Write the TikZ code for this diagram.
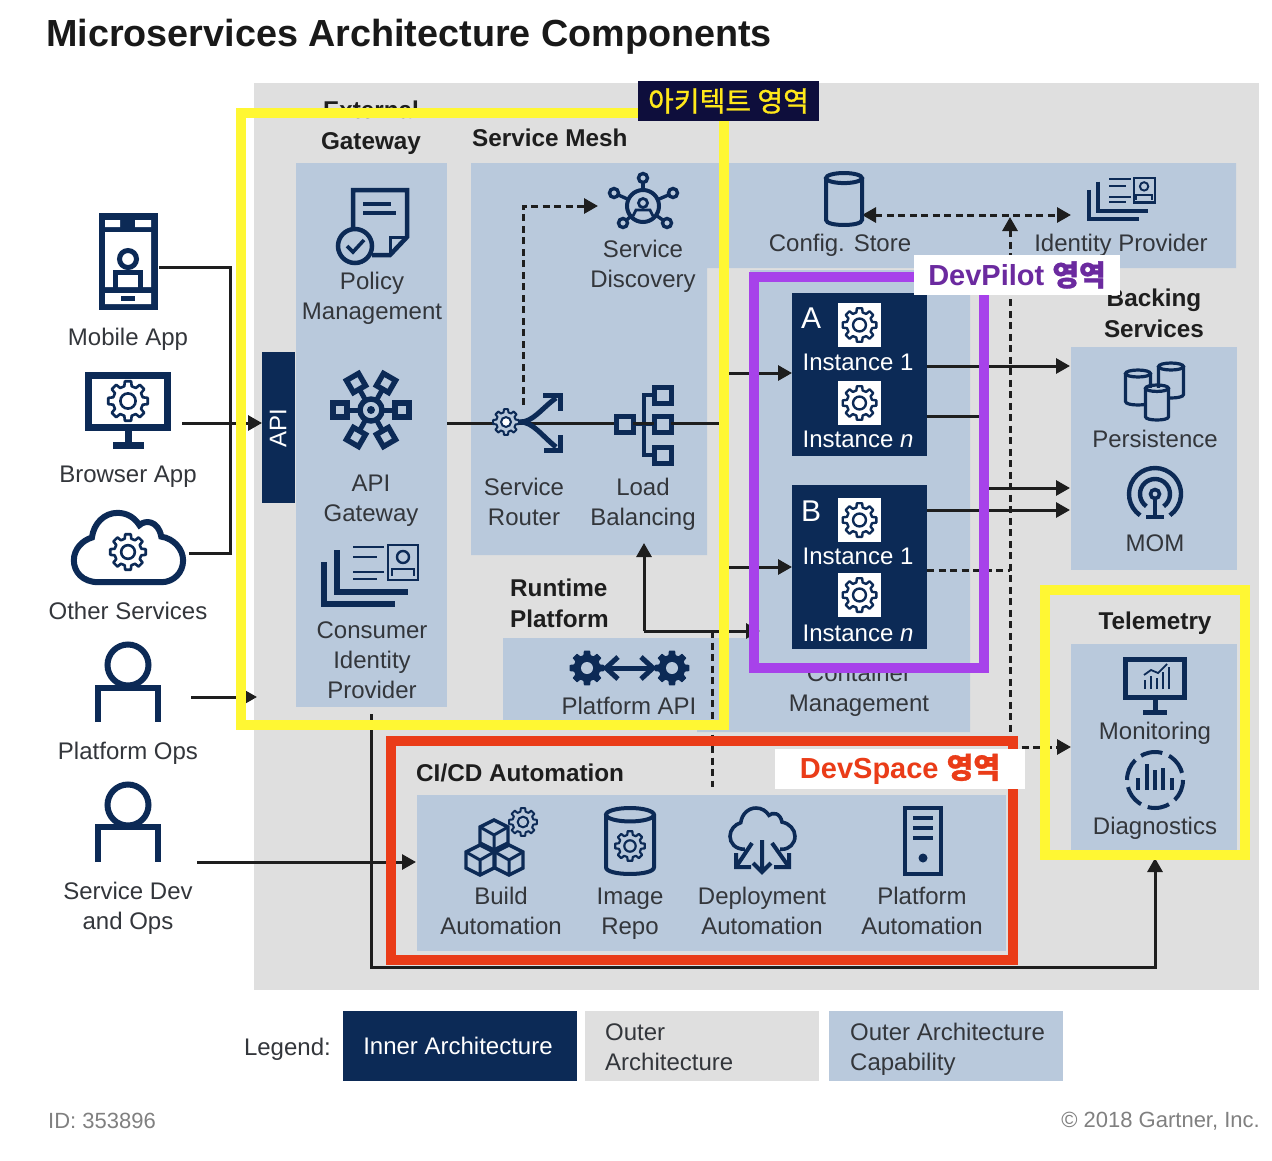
\documentclass[tikz,border=0pt]{standalone}
\usepackage{fontspec}
\setmainfont{Liberation Sans}
\newfontfamily\krfont[FakeBold=1]{Noto Sans CJK KR}
\usetikzlibrary{arrows.meta}
\definecolor{navy}{HTML}{0C2A56}
\definecolor{panelc}{HTML}{B9C9DC}
\definecolor{grayc}{HTML}{DFDFDF}
\definecolor{txtc}{HTML}{33363B}
\definecolor{headc}{HTML}{1E1E1E}
\definecolor{ylw}{HTML}{FFF733}
\definecolor{prp}{HTML}{A742EA}
\definecolor{redc}{HTML}{EA3C18}
\definecolor{darkl}{HTML}{0E0E3C}
\definecolor{ylwt}{HTML}{FFE81A}
\definecolor{prpt}{HTML}{6B2A9F}
\tikzset{
 tipx/.tip={Triangle[length=14pt,width=15pt]},
 boxbase/.style={inner sep=0pt,outer sep=0pt},
 panelbox/.style={boxbase,fill=panelc},
 darkbox/.style={boxbase,fill=navy},
 graybox/.style={boxbase,fill=grayc},
 whitebox/.style={boxbase,fill=white},
 lbl/.style={inner sep=0pt,text=txtc,align=center,font=\fontsize{24}{30}\selectfont},
 lblw/.style={inner sep=0pt,text=white,align=center,font=\fontsize{24}{30}\selectfont},
 hd/.style={inner sep=0pt,text=headc,align=center,font=\fontsize{24.3}{31}\selectfont\bfseries},
 wire/.style={draw=headc,line width=3pt},
 arw/.style={wire,-tipx},
 dwire/.style={wire,dash pattern=on 7pt off 4.5pt},
 ic/.style={draw=navy,line width=4pt,line join=miter,fill=none},
 frame/.style={boxbase,fill=none,line width=10pt},
}
\newcommand{\bx}[6]{\pgfmathsetmacro\bxw{(#5)-(#3)}\pgfmathsetmacro\bxh{(#6)-(#4)}%
 \node[#1,minimum width=\bxw pt,minimum height=\bxh pt] (#2) at ({((#3)+(#5))/2},{((#4)+(#6))/2}) {};}
\newcommand{\gearic}[4][]{%
 \begin{scope}[shift={(#2,#3)}]
 \pgfmathsetmacro\grd{#4}
 \draw[navy,line width=2.6pt,line join=round,#1] (-14:{.76*\grd})
  \foreach \ga in {0,45,...,315}{ -- ({\ga-14}:{.76*\grd}) -- ({\ga-9}:\grd) -- ({\ga+9}:\grd) -- ({\ga+14}:{.76*\grd})} -- cycle;
 \draw[navy,line width=2.6pt,#1] (0,0) circle ({.38*\grd});
 \end{scope}}
\newcommand{\cyl}[5][]{% [opts] cx top rx bottom
 \pgfmathsetmacro\cyL{#2-#4}\pgfmathsetmacro\cyR{#2+#4}\pgfmathsetmacro\cyRy{#4*.28}
 \pgfmathsetmacro\cyT{#3+\cyRy}\pgfmathsetmacro\cyB{#5-\cyRy}\pgfmathsetmacro\cyBB{#5+.33*\cyRy}
 \draw[ic,#1] (#2,\cyT) ellipse [x radius=#4,y radius=\cyRy];
 \draw[ic,#1] (\cyL,\cyT) -- (\cyL,\cyB) .. controls (\cyL,\cyBB) and (\cyR,\cyBB) .. (\cyR,\cyB) -- (\cyR,\cyT);}
\newcommand{\cloudp}{(97,584) .. controls (80,584) and (71,573) .. (71,561) .. controls (71,549) and (80,540) .. (90,537) .. controls (92,522) and (103,511) .. (117,511) .. controls (127,511) and (135,516) .. (140,524) .. controls (146,518) and (160,519) .. (163,536) .. controls (176,538) and (186,549) .. (186,561) .. controls (186,574) and (176,584) .. (163,584) -- cycle}
\newcommand{\idicon}[1]{%
 \draw[ic,line width=#1*2.6pt] (68,0) rectangle (98,35);
 \draw[ic,line width=#1*2.4pt] (83,12) circle (6);
 \draw[ic,line width=#1*2.4pt] (72,31) -- (72,24) -- (94,24) -- (94,31);
 \draw[ic,line width=#1*2.6pt] (33,2) -- (64,2) (33,12) -- (57,12) (33,27) -- (64,27) (33,34) -- (57,34);
 \draw[ic,line width=#1*5.4pt] (17,5) -- (17,47) -- (88,47);
 \draw[ic,line width=#1*5.4pt] (4,17) -- (4,59) -- (75,59);}
\begin{document}
\begin{tikzpicture}[x=1pt,y=-1pt]
\useasboundingbox (0,0) rectangle (1272,1160);
\fill[white] (0,0) rectangle (1272,1160);
% title
\node[anchor=west,inner sep=0pt,text=black!90,font=\fontsize{37.75}{40}\selectfont\bfseries] (title) at (46,37) {Microservices Architecture Components};
% backgrounds
\bx{graybox}{bg}{254}{83}{1259}{990}
\bx{panelbox}{gwpanel}{296}{163}{447}{707}
\fill[panelc] (471,163) -- (1236,163) -- (1236,268) -- (707,268) -- (707,555) -- (471,555) -- cycle;
\fill[panelc] (503,638) -- (750,638) -- (750,270) -- (970,270) -- (970,732) -- (697,732) -- (697,725) -- (503,725) -- cycle;
\bx{panelbox}{backpanel}{1071}{347}{1237}{570}
\bx{panelbox}{telepanel}{1071}{644}{1237}{850}
\bx{panelbox}{cipanel}{417}{795}{1006}{951}
\bx{darkbox}{apibar}{262}{352}{295}{503}
\bx{darkbox}{instA}{792}{293}{927}{456}
\bx{darkbox}{instB}{792}{485}{927}{649}
% named connector ends
\coordinate (mobO) at (159,267); \coordinate (cloudO) at (189,553); \coordinate (busT) at (230,267); \coordinate (busB) at (230,553);
\coordinate (brO) at (182,423); \coordinate (apiIn) at (262,423);
\coordinate (opsO) at (191,697); \coordinate (opsI) at (257,697);
\coordinate (devO) at (197,862); \coordinate (devI) at (416,862);
\coordinate (gwO) at (447,423); \coordinate (lbO) at (722,423);
\coordinate (rtU) at (523,405); \coordinate (discI) at (598,206); \coordinate (rtC) at (523,206);
\coordinate (meshT) at (722,373); \coordinate (meshB) at (722,567);
\coordinate (aIn) at (792,373); \coordinate (bIn) at (792,567);
\coordinate (lbU) at (644,543); \coordinate (ptC) at (644,631); \coordinate (ctI) at (760,631);
\coordinate (ptD) at (712,631); \coordinate (ptE) at (712,787);
\coordinate (aO1) at (927,366); \coordinate (pI) at (1070,366);
\coordinate (aO2) at (927,416); \coordinate (jn) at (985,416); \coordinate (jn2) at (985,488); \coordinate (mI1) at (1070,488);
\coordinate (bO1) at (927,510); \coordinate (mI2) at (1070,510);
\coordinate (bO2) at (927,570); \coordinate (vd) at (1010,570);
\coordinate (vT) at (1010,217); \coordinate (vB) at (1010,747); \coordinate (tI) at (1071,747);
\coordinate (cfg) at (862,215); \coordinate (idp) at (1071,215);
\coordinate (gwB) at (371,714); \coordinate (botL) at (371,967); \coordinate (botR) at (1155,967); \coordinate (teleI) at (1155,858);
% connectors
\draw[wire] (mobO) -- (busT) -- (busB) -- (cloudO);
\draw[arw] (brO) -- (apiIn);
\draw[arw] (opsO) -- (opsI);
\draw[arw] (devO) -- (devI);
\draw[wire] (gwO) -- (lbO);
\draw[wire] (meshT) -- (meshB);
\draw[dwire,-tipx] (rtU) -- (rtC) -- (discI);
\draw[arw] (meshT) -- (aIn);
\draw[arw] (meshB) -- (bIn);
\draw[arw] (ptC) -- (lbU);
\draw[arw] (ptC) -- (ctI);
\draw[dwire] (ptD) -- (ptE);
\draw[arw] (aO1) -- (pI);
\draw[wire] (aO2) -- (jn) -- (jn2);
\draw[arw] (jn2) -- (mI1);
\draw[arw] (bO1) -- (mI2);
\draw[dwire] (bO2) -- (vd);
\draw[dwire,tipx-] (vT) -- (vB);
\draw[dwire,-tipx] (vB) -- (tI);
\draw[dwire,tipx-tipx] (cfg) -- (idp);
\draw[wire,-tipx] (gwB) -- (botL) -- (botR) -- (teleI);
% left icons
% mobile
\fill[navy] (99,213) rectangle (158,310);
\fill[white] (105,220) rectangle (120,227) (135,220) rectangle (151,227) (105,232) rectangle (151,287) (105,293) rectangle (151,304);
\fill[navy] (121,296) rectangle (135,301);
\draw[ic,line width=5pt] (128,259) circle (8.5);
\draw[ic,line width=5pt] (115.5,288) -- (115.5,272) -- (140.5,272) -- (140.5,288);
% browser
\draw[ic,line width=7pt] (88.5,375.5) rectangle (167.5,427.5);
\draw[ic,line width=7pt] (128,431) -- (128,444);
\draw[ic,line width=7pt] (113,445) -- (144,445);
\gearic{128}{401}{20}
% cloud
\begin{scope}[shift={(128,548)},scale=.95,shift={(-128,-548)}]
\draw[ic,line width=6pt] \cloudp;
\end{scope}
\gearic{128}{552}{18}
% persons
\draw[ic,line width=6pt] (128,665) circle (20.5);
\draw[ic,line width=6pt] (98,722) -- (98,688) -- (158,688) -- (158,722);
\draw[ic,line width=6pt] (128,805) circle (20.5);
\draw[ic,line width=6pt] (98,862) -- (98,827) -- (158,827) -- (158,862);
% policy
\fill[panelc] (355,246) circle (18);
\draw[ic,line width=4.5pt] (353,229) -- (353,190) -- (407,190) -- (407,237) -- (390,255) -- (372,255);
\draw[ic,line width=3pt] (407,237) -- (390,237) -- (390,255);
\draw[ic,line width=3.4pt] (363,204) -- (391,204) (363,213) -- (396,213);
\draw[ic,line width=4.5pt] (355,246) circle (17);
\draw[ic,line width=3.6pt] (347,246) -- (353,252) -- (364,240);
% api gateway
\foreach \ax/\ay in {340/410,402/410,356/383,386/383,356/437,386/437}{\draw[ic,line width=5pt] (371,410) -- (\ax,\ay);}
\foreach \ax/\ay/\aa in {340/410/0,402/410/0,356/383/30,386/383/-30,356/437/-30,386/437/30}{
 \fill[panelc,rotate around={\aa:(\ax,\ay)}] (\ax-7,\ay-7) rectangle (\ax+7,\ay+7);
 \draw[ic,line width=5.4pt,rotate around={\aa:(\ax,\ay)}] (\ax-7,\ay-7) rectangle (\ax+7,\ay+7);}
\fill[panelc] (371,410) circle (11);
\draw[ic,line width=5.4pt] (371,410) circle (11);
\fill[navy] (371,410) circle (4);
% consumer identity
\begin{scope}[shift={(320,545)}] \idicon{1} \end{scope}
% identity provider
\begin{scope}[shift={(1086,178)},scale=.7] \idicon{.8} \end{scope}
% discovery
\foreach \sx/\sy in {643/178,673/193,667/223,623/223,614/193}{\draw[ic,line width=3.4pt] (643,206) -- (\sx,\sy);}
\foreach \sx/\sy in {643/178,673/193,667/223,623/223,614/193}{\fill[panelc] (\sx,\sy) circle (4.5); \draw[ic,line width=3.4pt] (\sx,\sy) circle (4.5);}
\fill[panelc] (643,206) circle (16);
\draw[ic,line width=4pt] (643,206) circle (16);
\draw[ic,line width=2.8pt] (643,203) circle (4.5);
\draw[ic,line width=2.8pt] (633,216) -- (636,210) -- (650,210) -- (653,216);
% router
\draw[ic,line width=5pt] (520,422) .. controls (533,422) and (541,409) .. (556,398);
\draw[ic,line width=5pt] (520,422) .. controls (533,422) and (541,435) .. (556,447);
\draw[ic,line width=5pt] (543,395) -- (560,395) -- (560,411);
\draw[ic,line width=5pt] (544,450) -- (560,450) -- (560,435);
\fill[panelc] (506,422) circle (12);
\gearic[line width=2pt]{506}{422}{13}
\fill[white] (506,422) circle (3.5);
% load balancing
\draw[ic,line width=4.6pt] (632,424) -- (655,424) (655,395) -- (644,395) -- (644,455) -- (655,455);
\foreach \by in {395,424,455}{\draw[ic,line width=5pt,fill=panelc] (654,\by-8) rectangle (671,\by+8);}
\draw[ic,line width=5pt,fill=panelc] (616,416) rectangle (633,432);
\draw[wire] (633,423) -- (654,423);
\draw[wire] (671,423) -- (722,423);
% platform api
\gearic[fill=navy,line width=1pt]{587}{668}{17}
\fill[panelc] (587,668) circle (6);
\gearic[fill=navy,line width=1pt]{672}{668}{17}
\fill[panelc] (672,668) circle (6);
\draw[ic,line width=5pt] (607,668) -- (652,668);
\draw[ic,line width=5pt] (618,657) -- (606,668) -- (618,679);
\draw[ic,line width=5pt] (641,657) -- (653,668) -- (641,679);
% config
\cyl{844}{173}{18}{225}
% persistence
\cyl[line width=3.2pt]{1171}{363}{12.5}{398}
\fill[panelc] (1125,373) rectangle (1152,405);
\cyl[line width=3.2pt]{1138}{370}{12.5}{405}
\fill[panelc] (1145,388) rectangle (1169,420);
\cyl[line width=3.2pt]{1157}{385}{11.5}{420}
% MOM
\draw[ic,line width=4.4pt] (1155,494) ++(125:26) arc[start angle=125,end angle=415,radius=26];
\draw[ic,line width=4.4pt] (1155,494) ++(125:15) arc[start angle=125,end angle=415,radius=15];
\draw[ic,line width=3.6pt] (1155,494) circle (4.5);
\draw[ic,line width=4.4pt] (1155,499) -- (1155,517);
\draw[ic,line width=4pt] (1146,517) -- (1164,517);
% monitoring
\draw[ic,line width=5pt] (1125.5,659.5) rectangle (1184.5,697);
\draw[ic,line width=5pt] (1155,698) -- (1155,710);
\draw[ic,line width=5pt] (1143,712) -- (1167,712);
\foreach \mx/\my in {1145/680,1151/676,1157/678,1163/672,1169/667}{\draw[ic,line width=2.4pt] (\mx,689) -- (\mx,\my);}
\draw[ic,line width=1.8pt] (1144,675) -- (1151,670) -- (1158,673) -- (1167,664);
% diagnostics
\draw[ic,line width=4pt,dash pattern=on 22pt off 7.3pt] (1155,780) circle (28);
\foreach \dx/\dy in {1138/778,1147/764,1155/770,1163/768,1172/778}{\draw[ic,line width=4pt] (\dx,790) -- (\dx,\dy);}
% build
\foreach \cx/\cy in {494/835,480/860,509/860}{
 \fill[panelc] (\cx,\cy-15) -- (\cx+14,\cy-8) -- (\cx+14,\cy+8) -- (\cx,\cy+15) -- (\cx-14,\cy+8) -- (\cx-14,\cy-8) -- cycle;
 \draw[ic,line width=3.4pt] (\cx,\cy-15) -- (\cx+14,\cy-8) -- (\cx+14,\cy+8) -- (\cx,\cy+15) -- (\cx-14,\cy+8) -- (\cx-14,\cy-8) -- cycle;
 \draw[ic,line width=3pt] (\cx-14,\cy-8) -- (\cx,\cy) -- (\cx+14,\cy-8) (\cx,\cy) -- (\cx,\cy+15);}
\gearic[line width=2pt]{523}{822}{14}
% image repo
\cyl{630}{808}{24}{874}
\gearic[line width=2.2pt]{630}{846}{15}
% deploy
\begin{scope}[shift={({730-71*.565},{808-511*.565})},scale=.565]
\draw[ic,line width=3.6pt] \cloudp;
\end{scope}
\fill[panelc] (745,845) rectangle (780,852);
\draw[ic,line width=4pt] (762,840) -- (762,872) (753,863) -- (762,872) -- (771,863);
\draw[ic,line width=4pt] (752,843) -- (736,867) (736,853) -- (736,867) -- (751,867);
\draw[ic,line width=4pt] (772,843) -- (789,867) (789,853) -- (789,867) -- (774,867);
% server
\draw[ic,line width=4pt] (905,808) rectangle (941,874);
\draw[ic,line width=3.6pt] (913,818) -- (933,818) (913,828) -- (933,828) (913,838) -- (933,838);
\fill[navy] (923,858) circle (4.5);
% instances
\foreach \gy/\gn in {325/ga1,403/ga2,520/gb1,595/gb2}{
 \bx{whitebox}{\gn}{838}{\gy-22}{881}{\gy+22}
 \gearic[line width=2.4pt]{859.5}{\gy}{17}
}
\node[lblw,font=\fontsize{30}{34}\selectfont] (lA) at (811,318) {A};
\node[lblw,font=\fontsize{30}{34}\selectfont] (lB) at (811,511) {B};
\node[lblw] (a1) at (858,362) {Instance 1};
\node[lblw] (an) at (858,439) {Instance \textit{n}};
\node[lblw] (b1) at (858,556) {Instance 1};
\node[lblw] (bn) at (858,633) {Instance \textit{n}};
\node[lblw,rotate=90] (apit) at (278,428) {API};
% labels
\node[lbl] (t1) at (128,339) {Mobile App};
\node[lbl] (t2) at (128,477) {Browser App};
\node[lbl] (t3) at (128,611) {Other Services};
\node[lbl] (t4) at (128,753) {Platform Ops};
\node[lbl] (t5) at (128,908) {Service Dev\\and Ops};
\node[hd] (h1) at (371,128) {External\\Gateway};
\node[hd,anchor=west] (h2) at (472,138) {Service Mesh};
\node[lbl] (t6) at (372,298) {Policy\\Management};
\node[lbl] (t7) at (371,501) {API\\Gateway};
\node[lbl] (t8) at (372,660) {Consumer\\Identity\\Provider};
\node[lbl] (t9) at (643,266) {Service\\Discovery};
\node[lbl] (t10) at (524,502) {Service\\Router};
\node[lbl] (t11) at (643,504) {Load\\Balancing};
\node[hd,anchor=west,align=left] (h3) at (510,603) {Runtime\\Platform};
\node[lbl] (t12) at (629,706) {Platform API};
\node[lbl] (t13) at (859,690) {Container\\Management};
\node[lbl] (t14) at (840,245) {Config. Store};
\node[lbl] (t15) at (1121,245) {Identity Provider};
\node[hd] (h4) at (1154,313) {Backing\\Services};
\node[lbl] (t16) at (1155,439) {Persistence};
\node[lbl] (t17) at (1155,543) {MOM};
\node[hd] (h5) at (1155,623) {Telemetry};
\node[lbl] (t18) at (1155,733) {Monitoring};
\node[lbl] (t19) at (1155,828) {Diagnostics};
\node[hd,anchor=west] (h6) at (416,773) {CI/CD Automation};
\node[lbl] (t20) at (501,911) {Build\\Automation};
\node[lbl] (t21) at (630,914) {Image\\Repo};
\node[lbl] (t22) at (762,911) {Deployment\\Automation};
\node[lbl] (t23) at (922,911) {Platform\\Automation};
% legend
\bx{darkbox}{lg1}{343}{1011}{577}{1081}
\bx{graybox}{lg2}{585}{1011}{819}{1081}
\bx{panelbox}{lg3}{829}{1011}{1063}{1081}
\node[lbl,anchor=east] (lgt) at (331,1049) {Legend:};
\node[lblw] (lg1t) at (458,1046) {Inner Architecture};
\node[lbl,anchor=west,align=left] (lg2t) at (605,1047) {Outer\\Architecture};
\node[lbl,anchor=west,align=left] (lg3t) at (850,1049) {Outer Architecture\\Capability};
\node[anchor=west,inner sep=0pt,text=gray,font=\fontsize{22}{26}\selectfont] (id) at (48,1121) {ID: 353896};
\node[anchor=east,inner sep=0pt,text=gray,font=\fontsize{22}{26}\selectfont] (cr) at (1260,1121) {© 2018 Gartner, Inc.};
% highlight frames
\bx{frame,draw=ylw}{fy1}{241}{113}{724}{725}
\bx{frame,draw=ylw}{fy2}{1044.5}{590}{1245}{854.5}
\bx{frame,draw=prp}{fp}{754}{277}{984}{668}
\bx{frame,draw=redc}{fr}{391}{741}{1013}{960}
\node[fill=darkl,minimum width=181pt,minimum height=40pt,inner sep=0pt,text=ylwt,font=\fontsize{28}{32}\selectfont\krfont] (tagA) at (728.5,101) {아키텍트 영역};
\node[fill=white,minimum width=206pt,minimum height=40pt,inner sep=0pt,text=prpt,font=\fontsize{29}{32}\selectfont\bfseries] (tagP) at (1017,275) {DevPilot {\krfont 영역}};
\node[fill=white,minimum width=250pt,minimum height=40pt,inner sep=0pt,text=redc,font=\fontsize{29}{32}\selectfont\bfseries] (tagR) at (900,769) {DevSpace {\krfont 영역}};
\end{tikzpicture}
\end{document}
